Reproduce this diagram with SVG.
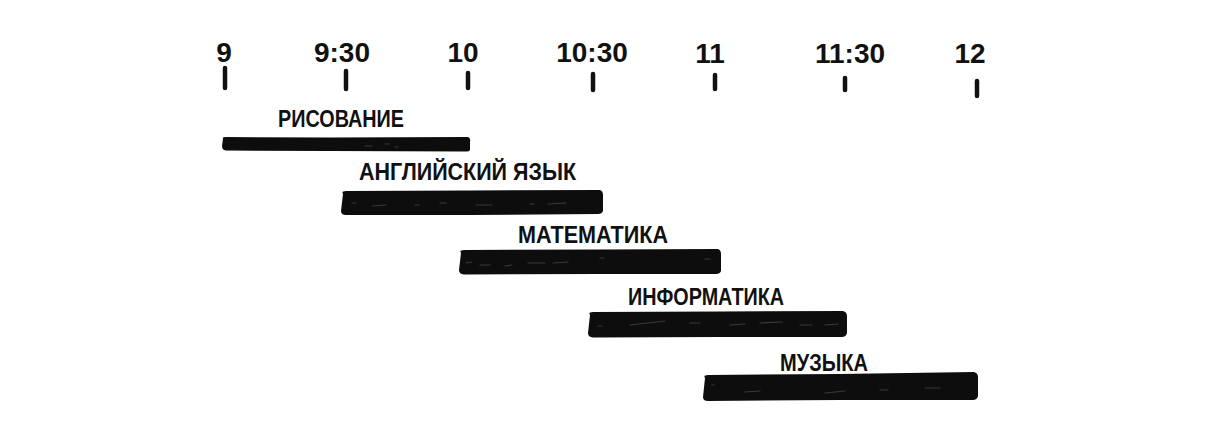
<svg xmlns="http://www.w3.org/2000/svg" width="1210" height="432" viewBox="0 0 1210 432">
<style>
.t{font-family:"Liberation Sans",Arial,sans-serif;font-weight:bold;fill:#111;}
.time{font-size:28px;text-anchor:middle;}
.lbl{font-size:23px;}
.tick{stroke:#111;stroke-width:4.5;stroke-linecap:round;}
.bar{fill:#0d0d0d;}
.str{stroke:#666;stroke-width:1.2;stroke-linecap:round;opacity:0.5;}
</style>
<rect width="1210" height="432" fill="#fff"/>
<g id="axis">
<text class="t time" x="224" y="62">9</text>
<text class="t time" x="342" y="62">9:30</text>
<text class="t time" x="463" y="62">10</text>
<text class="t time" x="592" y="62">10:30</text>
<text class="t time" x="710" y="63">11</text>
<text class="t time" x="850" y="63">11:30</text>
<text class="t time" x="970" y="63">12</text>
<line class="tick" x1="225" y1="68" x2="225" y2="88"/>
<line class="tick" x1="346" y1="71" x2="346" y2="89"/>
<line class="tick" x1="468" y1="73" x2="468" y2="88"/>
<line class="tick" x1="593" y1="74" x2="593" y2="90"/>
<line class="tick" x1="715" y1="75" x2="715" y2="89"/>
<line class="tick" x1="845" y1="78" x2="845" y2="90"/>
<line class="tick" x1="977" y1="81" x2="977" y2="96"/>
</g>
<g id="node-risovanie">
<text class="t lbl" x="278" y="127" textLength="126" lengthAdjust="spacingAndGlyphs">РИСОВАНИЕ</text>
<path class="bar" d="M223,139 Q222,137 226,137 L330,137.5 L468,137 Q471,138 470,142 L470,150 Q469,152 465,151.5 L330,151 L226,150.5 Q222,150 222,146 Z"/>
<path class="str" d="M365,146 L372,146 M385,144 L389,144 M395,147 L398,147"/>
</g>
<g id="node-english">
<text class="t lbl" x="359" y="180" textLength="217" lengthAdjust="spacingAndGlyphs">АНГЛИЙСКИЙ ЯЗЫК</text>
<path class="bar" d="M343,194 Q341,191 346,191 L470,190.5 L600,190 Q603,191 603,195 L603,211 Q602,214 598,214 L470,215 L346,215 Q341,215 341,211 Z"/>
<path class="str" d="M352,203 L356,203 M372,206 L386,205 M415,205 L419,205 M440,203 L446,203 M476,205 L492,205 M530,204 L534,204 M548,204 L566,203"/>
</g>
<g id="node-matematika">
<text class="t lbl" x="518" y="243" textLength="150" lengthAdjust="spacingAndGlyphs">МАТЕМАТИКА</text>
<path class="bar" d="M461,253 Q459,250 464,250 L600,249.5 L718,249 Q721,250 721,254 L721,271 Q720,274 716,274 L600,274 L464,274.5 Q459,274 459,270 Z"/>
<path class="str" d="M466,263 L472,262 M480,265 L490,265 M505,266 L512,265 M528,263 L545,263 M553,263 L568,262 M600,258 L604,258 M705,259 L710,259"/>
</g>
<g id="node-informatika">
<text class="t lbl" x="628" y="305" textLength="156" lengthAdjust="spacingAndGlyphs">ИНФОРМАТИКА</text>
<path class="bar" d="M590,315 Q588,312 593,312 L720,311.5 L843,311 Q847,312 847,316 L847,333 Q846,337 842,337 L720,337 L593,337.5 Q588,337 588,333 Z"/>
<path class="str" d="M598,326 L602,326 M630,325 L665,321 M690,323 L700,323 M730,325 L745,324 M760,323 L782,322 M800,325 L812,325 M825,325 L838,324"/>
</g>
<g id="node-muzyka">
<text class="t lbl" x="780" y="371" textLength="88" lengthAdjust="spacingAndGlyphs">МУЗЫКА</text>
<path class="bar" d="M705,378 Q703,375 708,375 L840,374 L974,372 Q978,373 978,377 L978,396 Q977,400 973,400 L840,400 L708,401 Q703,401 703,397 Z"/>
<path class="str" d="M712,385 L714,385 M745,392 L760,391 M825,393 L845,391 M880,390 L888,390 M925,388 L940,388"/>
</g>
</svg>
